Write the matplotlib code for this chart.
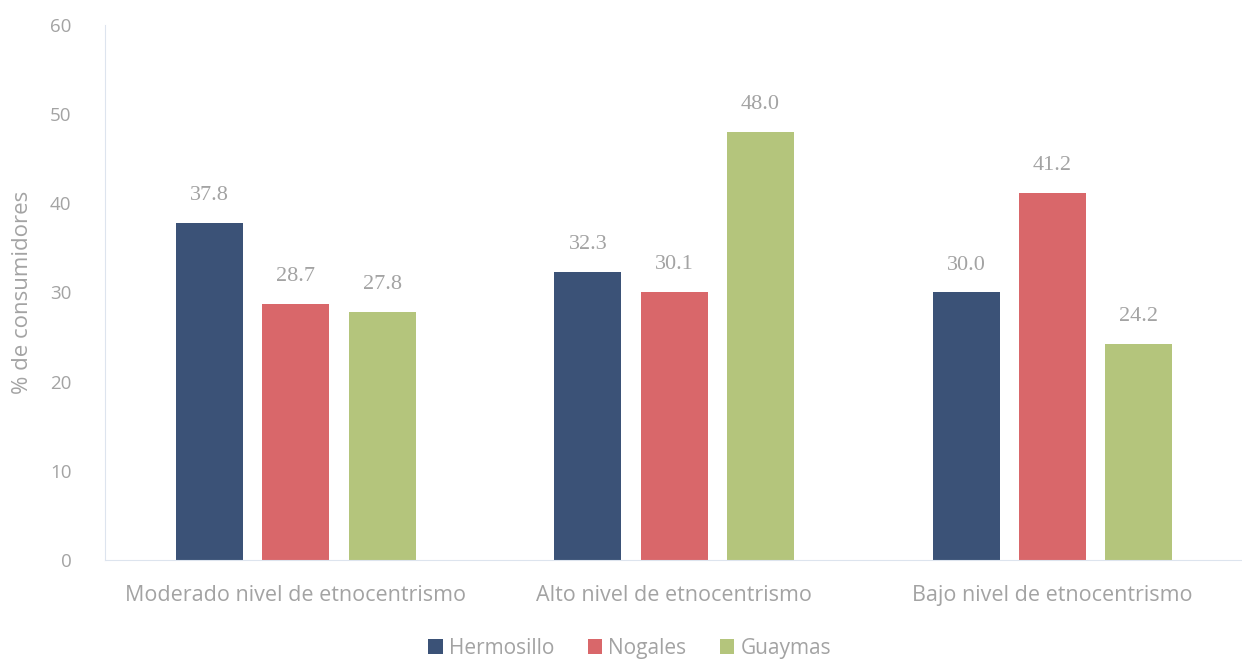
import numpy as np
from matplotlib import pyplot as plt

categories = ["Moderado nivel de etnocentrismo", "Alto nivel de etnocentrismo", "Bajo nivel de etnocentrismo"]
series = ["Hermosillo", "Nogales", "Guaymas"]
hermosillo = [37.8, 32.3, 30.0]
nogales = [28.7, 30.1, 41.2]
guaymas = [27.8, 48.0, 24.2]
colors = ["#3b5277", "#d9676a", "#b4c57c"]

gray = "#a3a3a3"

fig = plt.figure(figsize=(12.42, 6.61), dpi=100)
ax = fig.add_axes([0.0845, 0.153, 0.915, 0.809])

x = np.arange(len(categories))
width = 0.177
step = 0.228
for i, (name, vals) in enumerate(zip(series, [hermosillo, nogales, guaymas])):
    pos = x + (i - 1) * step
    bars = ax.bar(pos, vals, width, color=colors[i], label=name)
    for b, v in zip(bars, vals):
        ax.text(b.get_x() + b.get_width() / 2, v + 2.0, f"{v:.1f}",
                ha="center", va="bottom", fontsize=16, color=gray,
                family="Liberation Serif")

ax.set_xlim(-0.505, 2.5)
ax.set_ylim(0, 60)
ax.set_yticks(range(0, 61, 10))
ax.set_xticks(x)
ax.set_xticklabels(categories, fontsize=15.5, color=gray, family="Open Sans")
for t in ax.get_yticklabels():
    t.set_fontsize(13.5)
    t.set_color(gray)
    t.set_family("Open Sans")
ax.tick_params(axis="x", length=0, pad=18)
ax.tick_params(axis="y", length=0, pad=24)

for s in ["top", "right"]:
    ax.spines[s].set_visible(False)
ax.spines["left"].set_color("#dde4ee")
ax.spines["bottom"].set_color("#dde4ee")

ax.set_ylabel("% de consumidores", fontsize=16, color=gray, family="Open Sans", labelpad=12)

fig.legend(loc="lower center", bbox_to_anchor=(0.507, -0.025), ncol=3, frameon=False,
           prop={"family": "Open Sans", "size": 15}, labelcolor=gray,
           handlelength=0.7, handleheight=0.7, handletextpad=0.3, columnspacing=1.6)

fig.savefig("out.png", dpi=100)
